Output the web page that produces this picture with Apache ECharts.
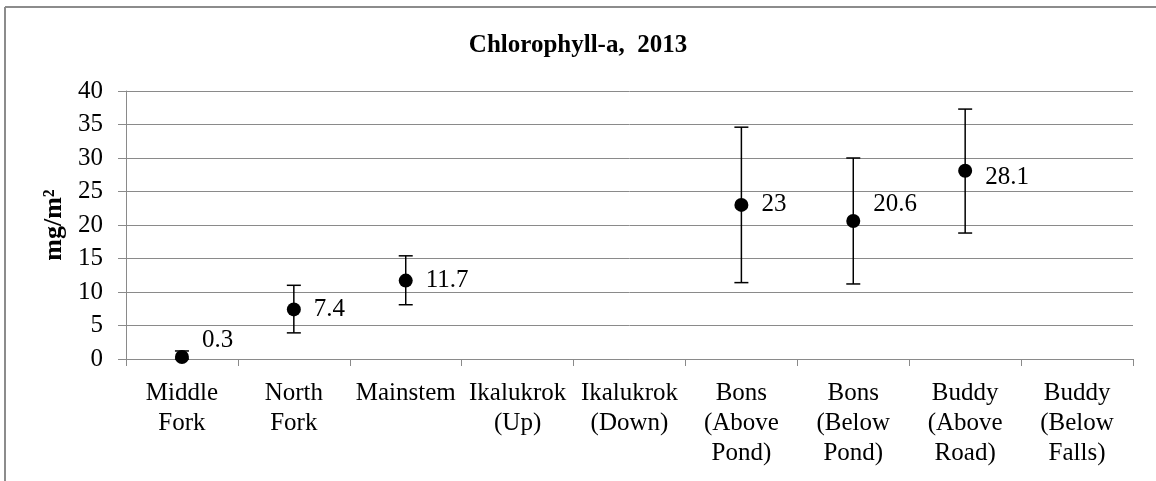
<!DOCTYPE html>
<html>
<head>
<meta charset="utf-8">
<script src="https://cdn.jsdelivr.net/npm/echarts@6/dist/echarts.min.js"></script>
<style>
  html, body { margin: 0; padding: 0; background: #fff; }
  #chart { width: 1156px; height: 481px; }
</style>
</head>
<body>
<div id="chart"></div>
<script>
  // sites along the x axis
  var sites = ['Middle\nFork', 'North\nFork', 'Mainstem', 'Ikalukrok\n(Up)', 'Ikalukrok\n(Down)',
    'Bons\n(Above\nPond)', 'Bons\n(Below\nPond)', 'Buddy\n(Above\nRoad)', 'Buddy\n(Below\nFalls)'];
  // mean chlorophyll-a, mg/m2
  var chlMean = [0.3, 7.4, 11.7, null, null, 23, 20.6, 28.1, null];
  // error bar ends
  var errLow = [0, 3.9, 8.1, null, null, 11.4, 11.2, 18.8, null];
  var errHigh = [1.2, 11.0, 15.4, null, null, 34.6, 30.0, 37.3, null];
  var yTicks = [0, 5, 10, 15, 20, 25, 30, 35, 40];

  // label nudges, like the excel placement
  var labelNudge = [[0, -17], [0, 0], [0, 0], [0, 0], [0, 0], [0, 0], [0, -17], [0, 7], [0, 0]];

  var font = 'Liberation Serif';
  var gridColor = '#8a8a8a';

  var errData = [];
  for (var i = 0; i < sites.length; i++) {
    if (errLow[i] != null) errData.push([i, errLow[i], errHigh[i]]);
  }
  var pointData = chlMean.map(function (v, i) {
    return {
      value: v,
      label: { offset: labelNudge[i] }
    };
  });

  var myChart = echarts.init(document.getElementById('chart'));
  var option = {
    animation: false,
    backgroundColor: '#fff',
    textStyle: { fontFamily: font },
    title: {
      text: 'Chlorophyll-a,  2013',
      left: 'center',
      top: 28,
      textStyle: { fontFamily: font, fontWeight: 'bold', fontSize: 25, color: '#000' }
    },
    graphic: [
      { type: 'line', shape: { x1: 5, y1: 7, x2: 5, y2: 481 }, style: { stroke: '#8c8c8c', lineWidth: 2 } },
      { type: 'line', shape: { x1: 5, y1: 7, x2: 1156, y2: 7 }, style: { stroke: '#8c8c8c', lineWidth: 2 } }
    ],
    grid: { left: 126, right: 23, top: 91, bottom: 122 },
    xAxis: {
      type: 'category',
      data: sites,
      axisLine: { lineStyle: { color: gridColor, width: 1 } },
      axisTick: { show: true, length: 7, lineStyle: { color: gridColor } },
      axisLabel: {
        interval: 0, margin: 19, fontSize: 25, lineHeight: 30,
        color: '#000', fontFamily: font
      }
    },
    yAxis: {
      type: 'value',
      min: yTicks[0],
      max: yTicks[yTicks.length - 1],
      interval: 5,
      name: 'mg/m²',
      nameLocation: 'middle',
      nameGap: 57,
      nameTextStyle: { fontFamily: font, fontWeight: 'bold', fontSize: 26, color: '#000' },
      axisLine: { show: true, lineStyle: { color: gridColor, width: 1 } },
      axisTick: { show: true, length: 8, lineStyle: { color: gridColor } },
      splitLine: { lineStyle: { color: gridColor, width: 1 } },
      axisLabel: { margin: 23, fontSize: 25, color: '#000', fontFamily: font }
    },
    series: [
      {
        name: 'error',
        type: 'custom',
        data: errData,
        z: 2,
        renderItem: function (params, api) {
          var x = api.value(0);
          var lo = api.coord([x, api.value(1)]);
          var hi = api.coord([x, api.value(2)]);
          var cap = 7;
          var st = { stroke: '#000', lineWidth: 1.5 };
          return {
            type: 'group',
            children: [
              { type: 'line', shape: { x1: lo[0], y1: lo[1], x2: hi[0], y2: hi[1] }, style: st },
              { type: 'line', shape: { x1: hi[0] - cap, y1: hi[1], x2: hi[0] + cap, y2: hi[1] }, style: st },
              { type: 'line', shape: { x1: lo[0] - cap, y1: lo[1], x2: lo[0] + cap, y2: lo[1] }, style: st }
            ]
          };
        }
      },
      {
        name: 'Chlorophyll-a',
        type: 'scatter',
        data: pointData,
        symbol: 'circle',
        symbolSize: 14,
        z: 3,
        itemStyle: { color: '#000', opacity: 1 },
        emphasis: { disabled: true },
        label: {
          show: true,
          position: 'right',
          distance: 13,
          fontSize: 25,
          color: '#000',
          fontFamily: font,
          formatter: function (p) { return p.value; }
        }
      }
    ]
  };
  myChart.setOption(option);
</script>
</body>
</html>
